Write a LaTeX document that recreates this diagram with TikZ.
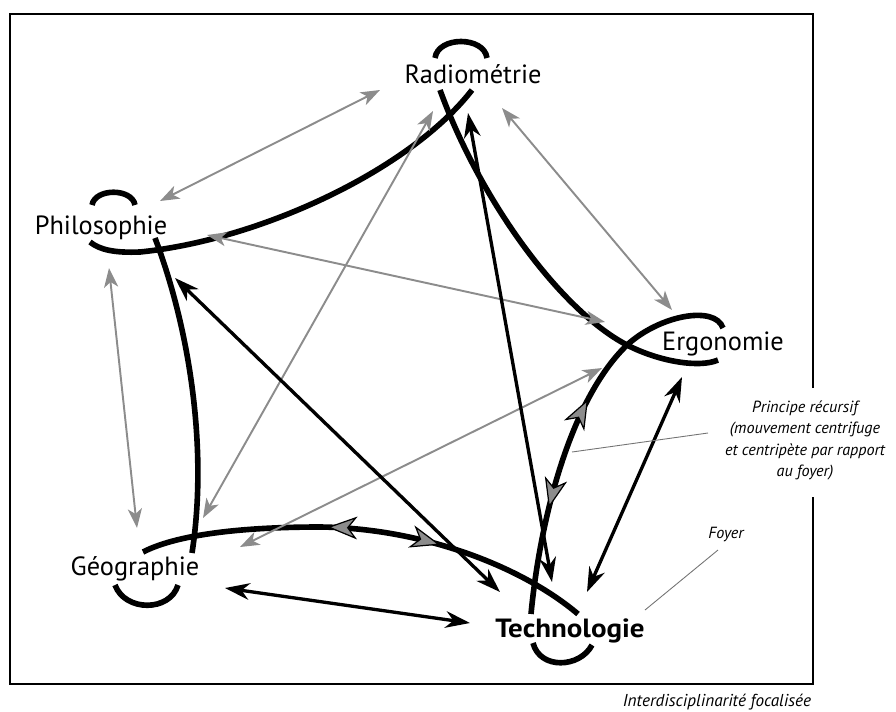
\documentclass[tikz,border=0pt]{standalone}
\usepackage{fontspec}
\setmainfont{PT Sans}
\usetikzlibrary{arrows.meta, decorations.markings}

\tikzset{ribbon/.tip={Stealth[length=17pt, width=13pt, inset=5pt, fill=black!45, line width=0.7pt]}}

\begin{document}
\begin{tikzpicture}[x=0.02cm, y=-0.02cm,
    every node/.style={inner sep=0pt},
    discipline/.style={anchor=base, font=\fontsize{15}{17}\selectfont},
    note/.style={font=\fontsize{9.2}{12.3}\selectfont\itshape, align=center},
    knot/.style={line width=3.2pt},
    pale/.style={{Stealth[length=11pt, width=8pt, inset=3pt]}-{Stealth[length=11pt, width=8pt, inset=3pt]}, line width=1.1pt, draw=black!45},
    dark/.style={{Stealth[length=14pt, width=9.5pt, inset=4.5pt]}-{Stealth[length=14pt, width=9.5pt, inset=4.5pt]}, line width=1.9pt},
    pointer/.style={line width=0.5pt, draw=black!55}]
    \useasboundingbox (0,0) rectangle (896,711);

    % frame, open on the right for the note
    \draw[line width=1.1pt] (813,388) -- (813,14) -- (10,14) -- (10,684) -- (813,684) -- (813,497);

    \node[discipline]            (rad)  at (473,83)  {Radiométrie};
    \node[discipline]            (phil) at (101,234) {Philosophie};
    \node[discipline]            (ergo) at (723,350) {Ergonomie};
    \node[discipline]            (geo)  at (135,575) {Géographie};
    \node[discipline, font=\fontsize{15}{17}\selectfont\bfseries] (tech) at (570,637) {\scalebox{1.1}[1]{Technologie}};

    % the knot through the five disciplines
    \draw[knot] (435,58) .. controls (438,36) and (484,36) .. (487,58);
    \draw[knot] (472,90) .. controls (410,170) and (260,240) .. (140,252)
                         .. controls (115,253) and (100,250) .. (90,242);
    \draw[knot] (92,205) .. controls (95,188) and (132,188) .. (135,205);
    \draw[knot] (155,238) .. controls (190,330) and (208,450) .. (192,553);
    \draw[knot] (115,585) .. controls (125,612) and (170,612) .. (178,585);
    \draw[knot, postaction={decorate}, decoration={markings,
        mark=at position 0.41 with {\arrowreversed{ribbon}},
        mark=at position 0.66 with {\arrow{ribbon}}}]
        (143,552) .. controls (180,533) and (250,527) .. (320,527)
                  .. controls (420,528) and (520,565) .. (578,614);
    \draw[knot] (533,643) .. controls (540,670) and (580,668) .. (592,645);
    \draw[knot, postaction={decorate}, decoration={markings,
        mark=at position 0.27 with {\arrowreversed{ribbon}},
        mark=at position 0.56 with {\arrow{ribbon}}}]
        (531,614) .. controls (540,520) and (570,400) .. (627,345)
                  .. controls (660,315) and (715,305) .. (723,328);
    \draw[knot] (440,90) .. controls (480,200) and (560,310) .. (627,345)
                         .. controls (660,362) and (700,368) .. (718,360);

    % ends of the exchanges
    \coordinate (phil1) at (160,201);  \coordinate (rad1)  at (380,90);
    \coordinate (rad2)  at (502,108);  \coordinate (ergo1) at (672,310);
    \coordinate (phil2) at (109,268);  \coordinate (geo1)  at (137,528);
    \coordinate (phil3) at (207,235);  \coordinate (ergo2) at (605,322);
    \coordinate (geo2)  at (203,518);  \coordinate (rad3)  at (433,111);
    \coordinate (geo3)  at (240,547);  \coordinate (ergo3) at (602,368);
    \coordinate (phil4) at (175,278);  \coordinate (tech1) at (500,592);
    \coordinate (rad4)  at (468,113);  \coordinate (tech2) at (552,582);
    \coordinate (ergo4) at (682,377);  \coordinate (tech3) at (587,592);
    \coordinate (geo4)  at (225,588);  \coordinate (tech4) at (470,623);

    \path (phil1) edge[pale] (rad1)
          (rad2)  edge[pale] (ergo1)
          (phil2) edge[pale] (geo1)
          (phil3) edge[pale] (ergo2)
          (geo2)  edge[pale] (rad3)
          (geo3)  edge[pale] (ergo3);
    \path (phil4) edge[dark] (tech1)
          (rad4)  edge[dark] (tech2)
          (ergo4) edge[dark] (tech3)
          (geo4)  edge[dark] (tech4);

    \node[note, anchor=north] (recur) at (805,400)
        {Principe récursif\\(mouvement centrifuge\\et centripète par rapport\\au foyer)};
    \node[note, anchor=base]  (foyer) at (726,538) {Foyer};
    \node[note, anchor=base, font=\fontsize{9.8}{12}\selectfont\itshape] (title) at (717,706) {Interdisciplinarité focalisée};
    \coordinate (recurend) at (708,433);
    \coordinate (recurpin) at (572,452);
    \coordinate (foyerend) at (718,550);
    \coordinate (foyerpin) at (645,610);
    \draw[pointer] (recurend) -- (recurpin);
    \draw[pointer] (foyerend) -- (foyerpin);
\end{tikzpicture}
\end{document}
